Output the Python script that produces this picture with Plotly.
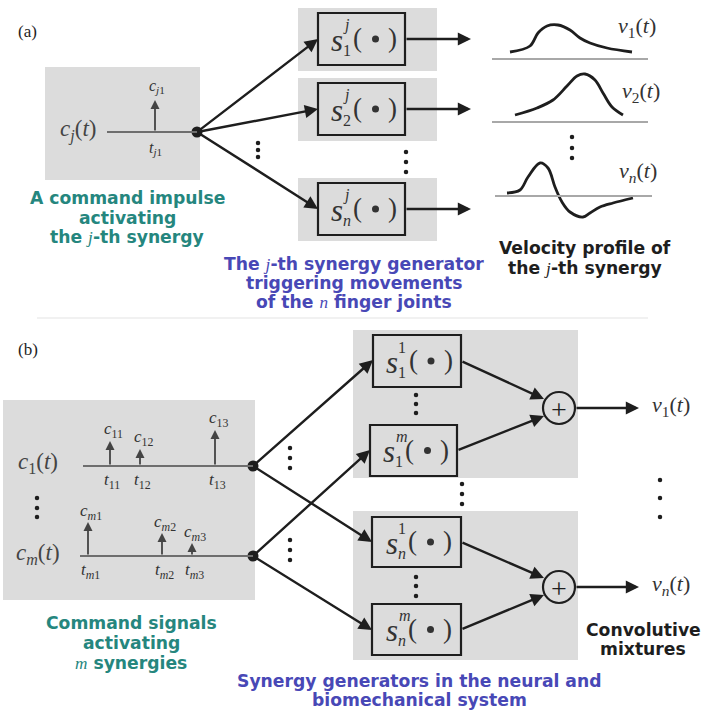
import plotly.graph_objects as go

W, H = 703, 715
GRAY = "#dcdcdc"
INK = "#1e1e1e"
TXT = "#333333"
TEAL = "#25867e"
BLUE = "#4848b6"
SERIF = "Liberation Serif"
SANS = "DejaVu Sans"

# ---------------- panel (a) values ----------------
a_impulse_t = [155]            # impulse time position
a_impulse_top = [100]          # impulse tip
a_baseline_y = 132
a_node = (197, 132)
a_block_y = [39, 109, 209]     # centres of the synergy-generator blocks
a_block_sub = ["1", "2", "<i>n</i>"]
a_profile_base = [59, 122, 196]

# velocity profiles v1, v2, vn (sampled shapes)
v1_x = [510, 530, 538, 547, 558, 570, 580, 590, 607, 632]
v1_y = [52, 46, 33, 26, 25, 30, 38, 43, 48, 52]
v2_x = [515, 537, 553, 567, 577, 585, 595, 603, 612, 623]
v2_y = [115, 108, 100, 86, 76, 74, 80, 93, 107, 115]
vn_x = [507, 520, 528, 540, 548, 555, 562, 570, 583, 590, 600, 613, 633]
vn_y = [193, 190, 177, 163, 168, 187, 202, 212, 217, 213, 207, 203, 198]

# ---------------- panel (b) values ----------------
c1_t = [110, 140, 215]
c1_top = [441, 449, 430]
cm_t = [88, 162, 192]
cm_top = [522, 533, 543]
c1_y, cm_y = 466, 556
b_nodes = [(253, 466), (253, 556)]
b_blocks = [  # (x0, x1, y0, y1, sub, sup)
    (373, 461, 335, 387, "1", "1"),
    (370, 457, 425, 476, "1", "<i>m</i>"),
    (372, 461, 517, 567, "<i>n</i>", "1"),
    (372, 461, 604, 655, "<i>n</i>", "<i>m</i>"),
]
b_sums = [(559, 408), (559, 587)]

fig = go.Figure()
shapes, ann = [], []
bullets_x, bullets_y = [], []


def rect(x0, y0, x1, y1, fill, line=None, lw=0, layer="below"):
    shapes.append(dict(type="rect", x0=x0, x1=x1, y0=y0, y1=y1, fillcolor=fill,
                       line=dict(color=line or fill, width=lw), layer=layer))


def seg(x0, y0, x1, y1, color=INK, width=2):
    shapes.append(dict(type="line", x0=x0, y0=y0, x1=x1, y1=y1,
                       line=dict(color=color, width=width), layer="above"))


def arrow(x0, y0, x1, y1, color=INK, width=2.4, size=1.1):
    ann.append(dict(x=x1, y=y1, ax=x0, ay=y0, xref="x", yref="y", axref="x", ayref="y",
                    text="", showarrow=True, arrowhead=2, arrowsize=size,
                    arrowwidth=width, arrowcolor=color, standoff=0))


def txt(x, y, s, size, color=TXT, family=SERIF, xanchor="center"):
    ann.append(dict(x=x, y=y, xref="x", yref="y", text=s, showarrow=False,
                    xanchor=xanchor, yanchor="middle",
                    font=dict(size=size, color=color, family=family)))


def caption(x, y, lines, color, size=17.2, gap=19.5):
    for i, line in enumerate(lines):
        txt(x, y + i * gap, "<b>" + line + "</b>", size, color, SANS)


def dots(x, ys, size=4.5):
    fig.add_trace(go.Scatter(x=[x] * len(ys), y=ys, mode="markers",
                             marker=dict(size=size, color=INK), hoverinfo="skip"))


def sblock(x0, x1, y0, y1, sub, sup):
    rect(x0, y0, x1, y1, GRAY, INK, 2.2)
    cy = (y0 + y1) / 2
    cx = (x0 + x1) / 2
    txt(cx - 25, cy + 1, "<i>s</i>", 31)
    txt(cx - (12 if "m" in sup else 15), cy - 14, sup, 16)
    txt(cx - 15, cy + 11, sub, 16)
    txt(cx - 4, cy - 1, "(", 27)
    txt(cx + 31, cy - 1, ")", 27)
    bullets_x.append(cx + 14)
    bullets_y.append(cy)


jit = '<span style="font-family:Liberation Serif;font-weight:normal"><i>j</i></span>'
nit = '<span style="font-family:Liberation Serif;font-weight:normal"><i>n</i></span>'
mit = '<span style="font-family:Liberation Serif;font-weight:normal"><i>m</i></span>'

# ================= panel (a) =================
txt(27, 31, "(a)", 17, INK)
rect(45, 67, 200, 180, GRAY)
txt(78, 130, "<i>c<sub>j</sub></i>(<i>t</i>)", 23, "#444444")
seg(107, a_baseline_y, a_node[0], a_baseline_y, "#6e6e6e", 2)
for t, top in zip(a_impulse_t, a_impulse_top):
    arrow(t, a_baseline_y, t, top, "#444444", 1.8, 1.0)
    txt(t + 2, top - 14, "<i>c<sub>j</sub></i><sub>1</sub>", 16)
    txt(t, a_baseline_y + 16, "<i>t<sub>j</sub></i><sub>1</sub>", 16)

for yc in a_block_y:
    rect(298, yc - 31, 437, yc + 32, GRAY)
for yc, sub in zip(a_block_y, a_block_sub):
    sblock(318, 405, yc - 26, yc + 26, sub, "<i>j</i>")
    arrow(a_node[0], a_node[1], 318, yc)
    arrow(405, yc, 471, yc)

dots(258, [143, 150, 157])
dots(406, [152, 162, 172])

for yb, (x0, x1) in zip(a_profile_base, [(492, 648), (492, 648), (495, 652)]):
    seg(x0, yb, x1, yb, "#a8a8a8", 1.8)
for xs, ys in [(v1_x, v1_y), (v2_x, v2_y), (vn_x, vn_y)]:
    fig.add_trace(go.Scatter(x=xs, y=ys, mode="lines", line=dict(color=INK, width=2.8, shape="spline"),
                             hoverinfo="skip"))
txt(637, 27, "<i>v</i><sub>1</sub>(<i>t</i>)", 22)
txt(641, 92, "<i>v</i><sub>2</sub>(<i>t</i>)", 22)
txt(638, 172, "<i>v<sub>n</sub></i>(<i>t</i>)", 22)
dots(572, [137, 148, 158])

caption(127, 198, ["A command impulse", "activating", "the " + jit + "-th synergy"], TEAL)
caption(354, 264, ["The " + jit + "-th synergy generator", "triggering movements",
                   "of the " + nit + " finger joints"], BLUE, gap=18.8)
caption(585, 248, ["Velocity profile of", "the " + jit + "-th synergy"], INK, gap=19.5)

seg(37, 318, 648, 318, "#ececec", 1.5)

# ================= panel (b) =================
txt(28, 349, "(b)", 17, INK)
rect(3, 400, 255, 600, GRAY)
txt(38, 463, "<i>c</i><sub>1</sub>(<i>t</i>)", 23, "#444444")
txt(38, 554, "<i>c<sub>m</sub></i>(<i>t</i>)", 23, "#444444")
seg(83, c1_y, 253, c1_y, "#6e6e6e", 2)
seg(80, cm_y, 253, cm_y, "#6e6e6e", 2)
for k, (t, top) in enumerate(zip(c1_t, c1_top), start=1):
    arrow(t, c1_y, t, top, "#444444", 1.8, 1.0)
    txt(t + 3, top - 11, "<i>c</i><sub>1%d</sub>" % k, 17)
    txt(t + 2, c1_y + 15, "<i>t</i><sub>1%d</sub>" % k, 17)
for k, (t, top) in enumerate(zip(cm_t, cm_top), start=1):
    arrow(t, cm_y, t, top, "#444444", 1.8, 1.0)
    txt(t + 3, top - 10, "<i>c<sub>m</sub></i><sub>%d</sub>" % k, 17)
    txt(t + 2, cm_y + 15, "<i>t<sub>m</sub></i><sub>%d</sub>" % k, 17)
dots(37, [498, 508, 517])

rect(353, 330, 578, 478, GRAY)
rect(353, 511, 578, 660, GRAY)
for b in b_blocks:
    sblock(*b)

# command nodes fan out to the generator blocks
targets = [[(373, 360), (372, 542)], [(370, 450), (372, 630)]]
for (nx, ny), tg in zip(b_nodes, targets):
    for tx, ty in tg:
        arrow(nx, ny, tx, ty)
dots(290, [448, 458, 468])
dots(290, [540, 550, 560])
dots(416, [395, 404, 413])
dots(416, [577, 586, 596])
dots(462, [484, 494, 504])

# summing junctions
for (sx, sy), pair in zip(b_sums, [(b_blocks[0], b_blocks[1]), (b_blocks[2], b_blocks[3])]):
    for blk, dy in zip(pair, (-9, 8)):
        arrow(blk[1], (blk[2] + blk[3]) / 2, sx - 15, sy + dy)
    shapes.append(dict(type="circle", x0=sx - 16, x1=sx + 16, y0=sy - 16, y1=sy + 16,
                       line=dict(color=INK, width=2.2), fillcolor="rgba(0,0,0,0)", layer="above"))
    txt(sx, sy + 1, "+", 28, INK)
    arrow(sx + 16, sy, 639, sy)
txt(671, 406, "<i>v</i><sub>1</sub>(<i>t</i>)", 22)
txt(671, 585, "<i>v<sub>n</sub></i>(<i>t</i>)", 22)
dots(660, [480, 498, 517])

caption(131, 623, ["Command signals", "activating", mit + " synergies"], TEAL, gap=20)
caption(419, 681, ["Synergy generators in the neural and", "biomechanical system"], BLUE, gap=19)
caption(643, 630, ["Convolutive", "mixtures"], INK, gap=19)

# bullet argument inside each generator block
fig.add_trace(go.Scatter(x=bullets_x, y=bullets_y, mode="markers",
                         marker=dict(size=7, color=TXT), hoverinfo="skip"))

for (nx, ny) in b_nodes + [a_node]:
    fig.add_trace(go.Scatter(x=[nx], y=[ny], mode="markers",
                             marker=dict(size=11, color=INK), hoverinfo="skip"))

fig.update_layout(
    width=W, height=H, margin=dict(l=0, r=0, t=0, b=0),
    paper_bgcolor="white", plot_bgcolor="white", showlegend=False,
    xaxis=dict(range=[0, W], visible=False, fixedrange=True),
    yaxis=dict(range=[H, 0], visible=False, fixedrange=True),
    shapes=shapes, annotations=ann,
)
fig.write_html("out.html")
